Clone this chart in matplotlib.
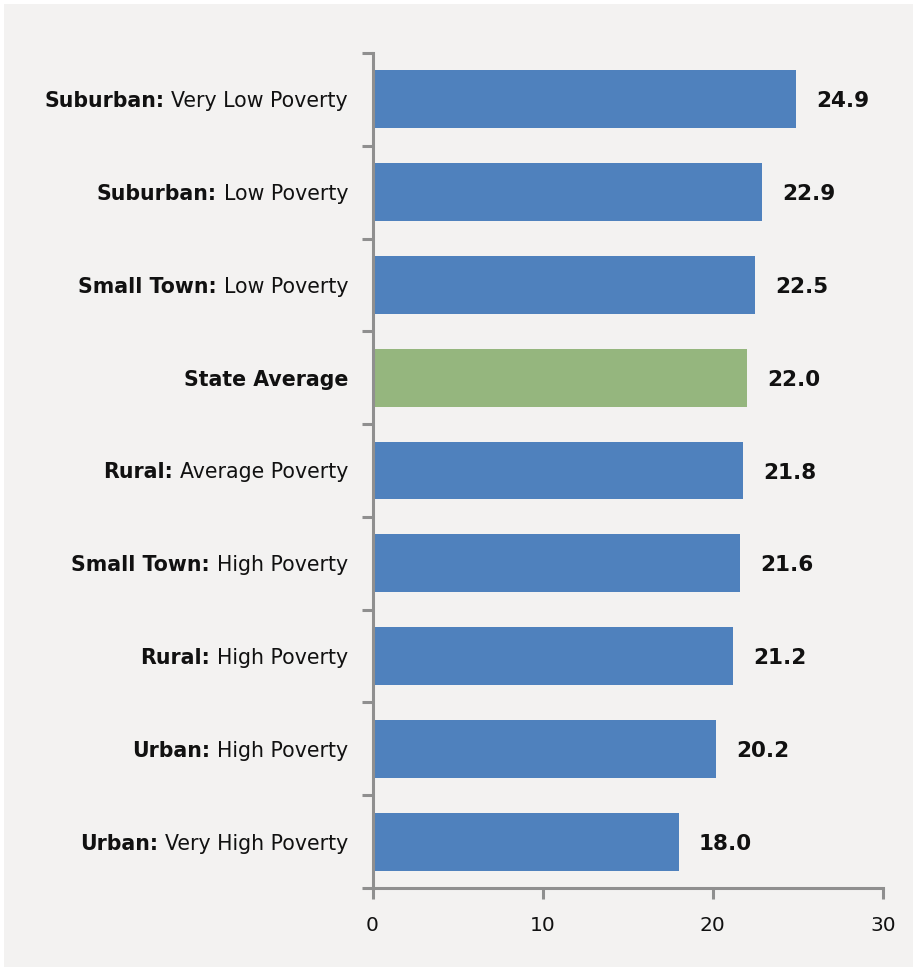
import matplotlib
matplotlib.use("Agg")
import matplotlib.pyplot as plt
from matplotlib.patches import Rectangle
from matplotlib.transforms import offset_copy

# Category labels split into a bold prefix and a regular suffix
prefixes = ["Suburban:", "Suburban:", "Small Town:", "State Average", "Rural:",
            "Small Town:", "Rural:", "Urban:", "Urban:"]
suffixes = ["Very Low Poverty", "Low Poverty", "Low Poverty", "", "Average Poverty",
            "High Poverty", "High Poverty", "High Poverty", "Very High Poverty"]
values = [24.9, 22.9, 22.5, 22.0, 21.8, 21.6, 21.2, 20.2, 18.0]
highlight = [False, False, False, True, False, False, False, False, False]
xticks = [0, 10, 20, 30]

BLUE = "#4f81bd"
GREEN = "#95b67e"
BG = "#f3f2f1"
AXIS = "#8f8f8f"
FONT = ["DejaVu Sans"]

fig = plt.figure(figsize=(9.17, 9.71), dpi=100, facecolor="white")
fig.patches.append(Rectangle((4 / 917, 4 / 971), 909 / 917, 963 / 971,
                             transform=fig.transFigure, facecolor=BG,
                             edgecolor="none", zorder=-10))

ax = fig.add_axes([372.5 / 917, 1 - 888 / 971, (883 - 372.5) / 917, (888 - 53) / 971])
ax.patch.set_alpha(0)

n = len(values)
ypos = list(range(n))[::-1]
colors = [GREEN if h else BLUE for h in highlight]
ax.barh(ypos, values, height=0.625, color=colors, zorder=2)

ax.set_xlim(0, 30)
ax.set_ylim(-0.5, n - 0.5)

for s in ["top", "right"]:
    ax.spines[s].set_visible(False)
for s in ["left", "bottom"]:
    ax.spines[s].set_color(AXIS)
    ax.spines[s].set_linewidth(2.2)
    ax.spines[s].set_zorder(3)

ax.set_xticks(xticks)
ax.set_xticklabels([str(t) for t in xticks], fontsize=14.5, family=FONT, color="#111111")
ax.tick_params(axis="x", direction="out", length=8, width=2.2, color=AXIS, pad=12)
ax.set_yticks([i - 0.5 for i in range(n + 1)])
ax.set_yticklabels([])
ax.tick_params(axis="y", direction="out", length=8, width=2.2, color=AXIS)

# Value labels to the right of each bar
for y, v in zip(ypos, values):
    ax.annotate(f"{v:.1f}", xy=(v, y), xytext=(14.5, -1.5), textcoords="offset points",
                ha="left", va="center", fontsize=15.5, fontweight="bold",
                family=FONT, color="#111111")

# Category labels: regular suffix right-aligned, bold prefix placed to its left
fig.canvas.draw()
renderer = fig.canvas.get_renderer()
label_x = 348 / 917
LABEL_SIZE = 14.8
for y, pre, suf in zip(ypos, prefixes, suffixes):
    yfig = fig.transFigure.inverted().transform(ax.transData.transform((0, y)))[1] - 2 / 971
    if suf:
        t = fig.text(label_x, yfig, suf, ha="right", va="center", fontsize=LABEL_SIZE,
                     family=FONT, color="#111111")
        w = t.get_window_extent(renderer).width
        tr = offset_copy(fig.transFigure, fig=fig, x=-(w + 7) * 72 / fig.dpi, units="points")
        fig.text(label_x, yfig, pre, ha="right", va="center", fontsize=LABEL_SIZE,
                 fontweight="bold", family=FONT, color="#111111", transform=tr)
    else:
        fig.text(label_x, yfig, pre, ha="right", va="center", fontsize=LABEL_SIZE,
                 fontweight="bold", family=FONT, color="#111111")

fig.savefig("out.png", dpi=100, facecolor="white")
